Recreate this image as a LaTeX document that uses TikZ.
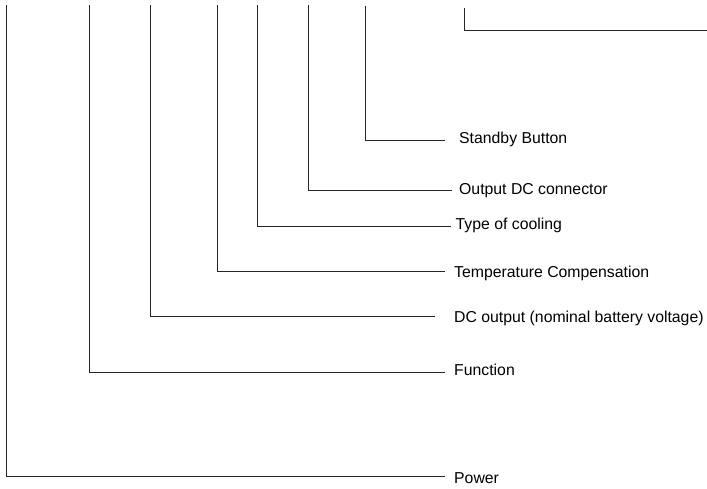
\documentclass[tikz,border=0pt]{standalone}
\usepackage{fontspec}
\setmainfont{Liberation Sans}
\begin{document}
\begin{tikzpicture}[x=1pt,y=-1pt,
  leader/.style={draw=black!85,line width=1pt},
  lbl/.style={anchor=base west,inner sep=0pt,font=\fontsize{15.8}{18}\selectfont,text=black}]
\useasboundingbox (0,0) rectangle (707,489);
% coordinates
\coordinate (tP) at (6.5,5);   \coordinate (eP) at (445,476);
\coordinate (tF) at (89.7,5);  \coordinate (eF) at (445,372.3);
\coordinate (tD) at (150.7,5); \coordinate (eD) at (435,316.3);
\coordinate (tT) at (217.5,5); \coordinate (eT) at (445,271.3);
\coordinate (tC) at (257.2,5); \coordinate (eC) at (451,226.3);
\coordinate (tO) at (308.8,5); \coordinate (eO) at (452,190.8);
\coordinate (tS) at (365.8,6); \coordinate (eS) at (445,140.8);
\coordinate (tR) at (464.7,8.3); \coordinate (eR) at (707,30.7);
% labels
\node[lbl] (lP) at (454,483) {Power};
\node[lbl] (lF) at (454,375) {Function};
\node[lbl] (lD) at (454,322.3) {DC output (nominal battery voltage)};
\node[lbl] (lT) at (454,277.7) {Temperature Compensation};
\node[lbl] (lC) at (455.5,230) {Type of cooling};
\node[lbl] (lO) at (459,195) {Output DC connector};
\node[lbl] (lS) at (459,144) {Standby Button};
% leaders
\draw[leader] (tP) |- (eP);
\draw[leader] (tF) |- (eF);
\draw[leader] (tD) |- (eD);
\draw[leader] (tT) |- (eT);
\draw[leader] (tC) |- (eC);
\draw[leader] (tO) |- (eO);
\draw[leader] (tS) |- (eS);
\draw[leader] (tR) |- (eR);
\end{tikzpicture}
\end{document}
